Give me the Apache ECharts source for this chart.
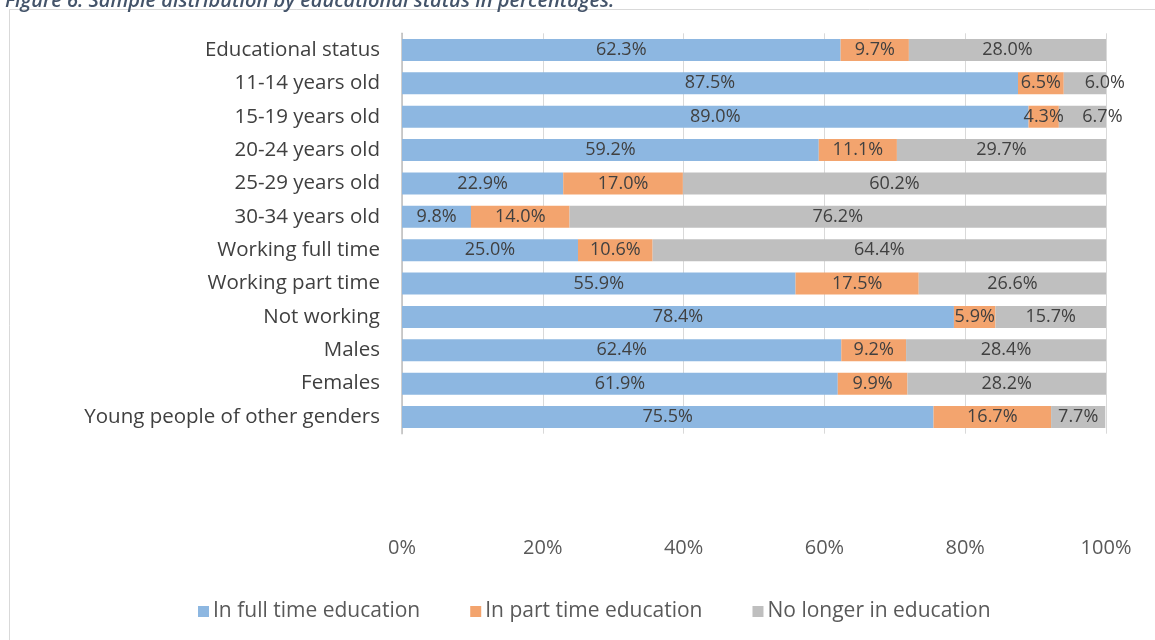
<!DOCTYPE html>
<html>
<head>
<meta charset="utf-8">
<script src="https://cdn.jsdelivr.net/npm/echarts@6/dist/echarts.min.js"></script>
<style>
html,body{margin:0;padding:0;background:#fff;}
#chart{width:1155px;height:640px;}
</style>
</head>
<body>
<div id="chart"></div>
<script>
const categories = ["Educational status","11-14 years old","15-19 years old","20-24 years old","25-29 years old","30-34 years old","Working full time","Working part time","Not working","Males","Females","Young people of other genders"];
const fullTime = [62.3, 87.5, 89.0, 59.2, 22.9, 9.8, 25.0, 55.9, 78.4, 62.4, 61.9, 75.5];
const partTime = [9.7, 6.5, 4.3, 11.1, 17.0, 14.0, 10.6, 17.5, 5.9, 9.2, 9.9, 16.7];
const noLonger = [28.0, 6.0, 6.7, 29.7, 60.2, 76.2, 64.4, 26.6, 15.7, 28.4, 28.2, 7.7];
const seriesNames = ["In full time education","In part time education","No longer in education"];
const xTicks = [0, 20, 40, 60, 80, 100];

const colors = ['#8DB7E1', '#F3A46E', '#BFBFBF'];
const font = '"Open Sans", "Noto Sans", sans-serif';

function mkSeries(name, vals, color, shiftSmall) {
  return {
    name: name,
    type: 'bar',
    stack: 'total',
    barWidth: 22,
    itemStyle: { color: color },
    data: vals.map(v => {
      const d = { value: v };
      if (shiftSmall && v < 7) d.label = { offset: [20, 0] };
      return d;
    }),
    label: {
      show: true,
      position: 'inside',
      color: '#404040',
      fontSize: 18,
      fontFamily: font,
      formatter: p => p.value.toFixed(1) + '%'
    }
  };
}

const chart = echarts.init(document.getElementById('chart'), null, { renderer: 'canvas' });
chart.setOption({
  animation: false,
  backgroundColor: '#fff',
  color: colors,
  title: {
    text: 'Figure 6: Sample distribution by educational status in percentages.',
    left: 0,
    top: -14,
    textStyle: { color: '#44546A', fontSize: 20, fontStyle: 'italic', fontWeight: 600, fontFamily: font }
  },
  graphic: [{
    type: 'rect',
    shape: { x: 9.5, y: 9.5, width: 1160, height: 640 },
    style: { fill: 'none', stroke: '#D9D9D9', lineWidth: 1 },
    silent: true, z: -1
  }],
  grid: { left: 402, right: 49, top: 33.3, bottom: 206.3, containLabel: false },
  legend: {
    data: seriesNames,
    left: 193,
    top: 596,
    itemWidth: 11,
    itemHeight: 11,
    itemGap: 50,
    icon: 'rect',
    textStyle: { color: '#595959', fontSize: 21, fontFamily: font, padding: [0, 0, 0, -1] }
  },
  xAxis: {
    type: 'value',
    min: xTicks[0],
    max: xTicks[xTicks.length - 1],
    interval: 20,
    axisLine: { show: false },
    axisTick: { show: false },
    splitLine: { show: true, lineStyle: { color: '#D9D9D9', width: 1 } },
    axisLabel: { color: '#595959', fontSize: 20, fontFamily: font, margin: 105, formatter: '{value}%' }
  },
  yAxis: {
    type: 'category',
    inverse: true,
    data: categories,
    axisLine: { show: true, lineStyle: { color: '#BFBFBF', width: 1.5 } },
    axisTick: { show: false },
    axisLabel: { color: '#404040', fontSize: 20.5, fontFamily: font, margin: 22 }
  },
  series: [
    mkSeries(seriesNames[0], fullTime, colors[0], false),
    mkSeries(seriesNames[1], partTime, colors[1], false),
    mkSeries(seriesNames[2], noLonger, colors[2], true)
  ]
});
</script>
</body>
</html>
